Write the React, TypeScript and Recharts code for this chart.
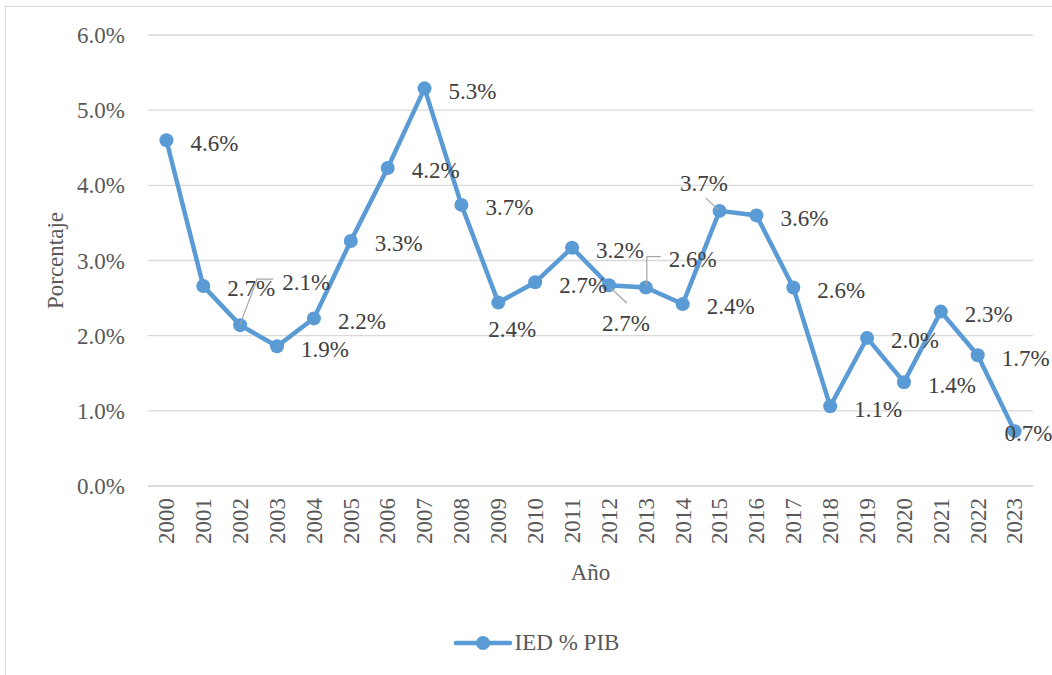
import { LineChart, Line, XAxis, YAxis, CartesianGrid, Legend, LabelList } from 'recharts'

const years = [
  '2000', '2001', '2002', '2003', '2004', '2005', '2006', '2007', '2008', '2009', '2010', '2011',
  '2012', '2013', '2014', '2015', '2016', '2017', '2018', '2019', '2020', '2021', '2022', '2023',
]
// IED como % del PIB
const iedPib = [
  4.6, 2.66, 2.14, 1.86, 2.23, 3.26, 4.23, 5.29, 3.74, 2.44, 2.71, 3.17,
  2.67, 2.64, 2.42, 3.66, 3.6, 2.64, 1.06, 1.97, 1.38, 2.32, 1.74, 0.73,
]
const yTicks = [0, 1, 2, 3, 4, 5, 6]

const SERIES_NAME = 'IED % PIB'
const BLUE = '#5B9BD5'
const FONT = '"Liberation Serif", "Times New Roman", serif'

const chartData = years.map((year, i) => ({ year, value: iedPib[i] }))

const pct = (v: number) => `${v.toFixed(1)}%`

// where Excel left each data label (relative to its point), plus leader lines
type Spot = { dx: number; dy: number; anchor?: 'start' | 'middle'; leader?: number[][] }
const DEFAULT_SPOT: Spot = { dx: 24, dy: 2.5, anchor: 'start' }
const labelSpots: Record<string, Spot> = {
  '2002': { dx: 42, dy: -43, anchor: 'start', leader: [[0, -1], [17, -46], [33, -46]] },
  '2009': { dx: 14, dy: 27, anchor: 'middle' },
  '2012': { dx: 17, dy: 38, anchor: 'middle', leader: [[2, 3], [18, 18]] },
  '2013': { dx: 23, dy: -28, anchor: 'start', leader: [[1, -2], [1, -31], [15, -31]] },
  '2015': { dx: -15.5, dy: -28, anchor: 'middle', leader: [[-14, -13], [-1, -1]] },
  '2023': { dx: -10, dy: 2.5, anchor: 'start' },
}

function renderDataLabel(props: any) {
  const { x, y, value, index } = props
  const spot = labelSpots[years[index]] ?? DEFAULT_SPOT
  return (
    <g key={`lbl-${index}`}>
      {spot.leader && (
        <polyline
          points={spot.leader.map(([px, py]) => `${x + px},${y + py}`).join(' ')}
          fill="none"
          stroke="#a6a6a6"
          strokeWidth={1.2}
        />
      )}
      <text
        x={x + spot.dx}
        y={y + spot.dy}
        dy="0.34em"
        textAnchor={spot.anchor ?? 'start'}
        fill="#404040"
        fontSize={23}
        fontFamily={FONT}
      >
        {pct(value)}
      </text>
    </g>
  )
}

function YearTick(props: any) {
  const { x, y, payload } = props
  return (
    <text
      x={x}
      y={y}
      transform={`rotate(-90, ${x}, ${y})`}
      textAnchor="end"
      dy="0.34em"
      fill="#595959"
      fontSize={23}
      fontFamily={FONT}
    >
      {payload.value}
    </text>
  )
}

function LegendContent() {
  return (
    <div style={{ display: 'flex', justifyContent: 'center', alignItems: 'center', paddingLeft: 20 }}>
      <svg width={60} height={20}>
        <line x1={3} y1={10} x2={57} y2={10} stroke={BLUE} strokeWidth={4.5} strokeLinecap="round" />
        <circle cx={30} cy={10} r={7} fill={BLUE} />
      </svg>
      <span style={{ fontFamily: FONT, fontSize: 23, color: '#595959', marginLeft: 2 }}>{SERIES_NAME}</span>
    </div>
  )
}

export default function App() {
  return (
    <div
      style={{
        position: 'absolute',
        left: 0,
        top: 0,
        width: 1052,
        height: 675,
        overflow: 'hidden',
        background: '#fff',
      }}
    >
      <div
        style={{
          position: 'absolute',
          left: 5,
          top: 6,
          width: 1100,
          height: 700,
          border: '1px solid #d9d9d9',
        }}
      />
      <div style={{ position: 'absolute', left: 0, top: 0 }}>
        <LineChart width={1052} height={675} data={chartData} margin={{ top: 35, right: 19, left: 48, bottom: 89 }}>
          <CartesianGrid vertical={false} stroke="#d9d9d9" strokeWidth={1.3} />
          <XAxis
            dataKey="year"
            type="category"
            height={100}
            padding={{ left: 18.4, right: 18.4 }}
            axisLine={{ stroke: '#d9d9d9', strokeWidth: 1.3 }}
            tickLine={false}
            tickSize={0}
            tickMargin={12}
            interval={0}
            tick={<YearTick />}
            label={{
              content: (p: any) => {
                const vb = p.viewBox
                return (
                  <text
                    x={vb.x + vb.width / 2}
                    y={vb.y + 94}
                    textAnchor="middle"
                    fill="#595959"
                    fontSize={23}
                    fontFamily={FONT}
                  >
                    Año
                  </text>
                )
              },
            }}
          />
          <YAxis
            width={100}
            domain={[0, 6]}
            ticks={yTicks}
            tickFormatter={pct}
            axisLine={false}
            tickLine={false}
            tickSize={0}
            tickMargin={23}
            tick={{ fill: '#595959', fontSize: 23, fontFamily: FONT }}
            label={{
              content: (p: any) => {
                const vb = p.viewBox
                const cx = vb.x + 7
                const cy = vb.y + vb.height / 2
                return (
                  <text
                    x={cx}
                    y={cy}
                    transform={`rotate(-90, ${cx}, ${cy})`}
                    textAnchor="middle"
                    dy="0.34em"
                    fill="#595959"
                    fontSize={23}
                    fontFamily={FONT}
                  >
                    Porcentaje
                  </text>
                )
              },
            }}
          />
          <Legend
            verticalAlign="middle"
            align="center"
            layout="horizontal"
            content={<LegendContent />}
            wrapperStyle={{ top: 630, left: 0, width: 1052 }}
          />
          <Line
            type="linear"
            dataKey="value"
            name={SERIES_NAME}
            stroke={BLUE}
            strokeWidth={4.5}
            dot={{ r: 7, fill: BLUE, stroke: 'none' }}
            activeDot={false}
            isAnimationActive={false}
          >
            <LabelList dataKey="value" content={renderDataLabel} />
          </Line>
        </LineChart>
      </div>
    </div>
  )
}
